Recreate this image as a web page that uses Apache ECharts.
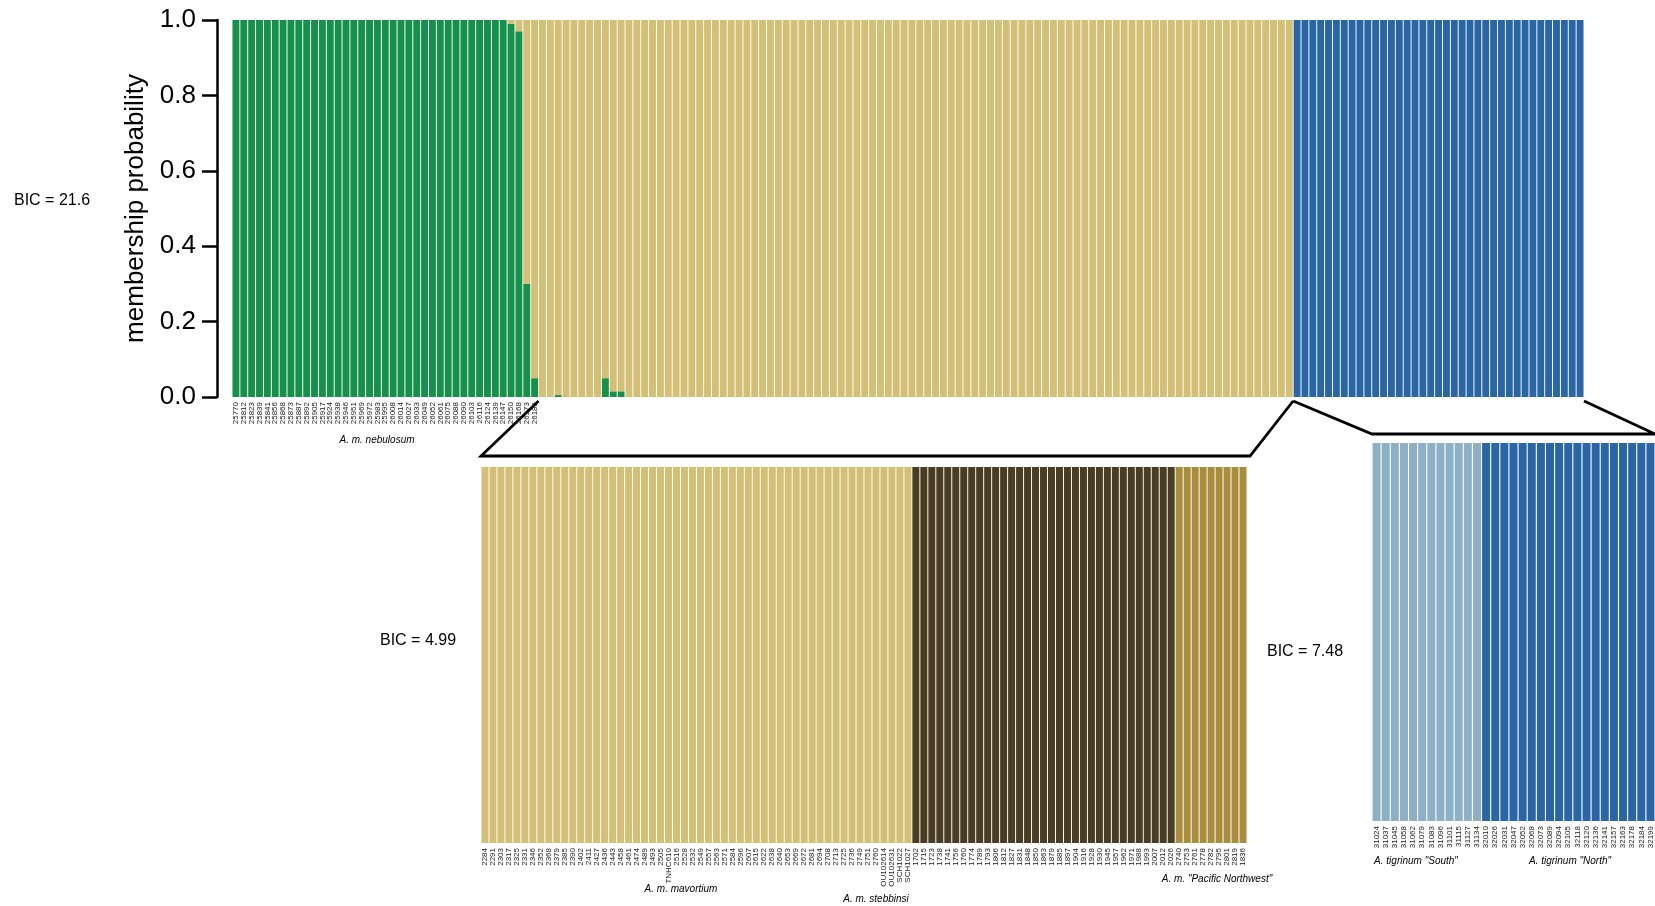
<!DOCTYPE html>
<html>
<head>
<meta charset="utf-8">
<script src="https://cdn.jsdelivr.net/npm/echarts@6/dist/echarts.min.js"></script>
<style>
html,body{margin:0;padding:0;background:#fff;}
#main{width:1655px;height:906px;}
</style>
</head>
<body>
<div id="main"></div>
<script>
// ---------------- DATA ----------------
// Top panel (K=3): 39 A. m. nebulosum, 96 A. mavortium group, 37 A. tigrinum
const nebulosumIDs = [
 '25770','25812','25823','25839','25841','25856','25868','25873','25887','25892',
 '25905','25917','25924','25938','25946','25951','25969','25972','25983','25995',
 '26008','26014','26027','26033','26049','26052','26061','26075','26088','26090',
 '26103','26116','26124','26139','26147','26150','26168','26173','26185'
];
const topGreen = [
 1,1,1,1,1,1,1,1,1,1,1,1,1,1,1,1,1,1,1,1,
 1,1,1,1,1,1,1,1,1,1,1,1,1,1,1,0.99,0.97,0.30,0.05,0,
 0,0.005,0,0,0,0,0,0.05,0.015,0.015,0,0,0,0,0,0,0,0,0,0,
 0,0,0,0,0,0,0,0,0,0,0,0,0,0,0,0,0,0,0,0,
 0,0,0,0,0,0,0,0,0,0,0,0,0,0,0,0,0,0,0,0,
 0,0,0,0,0,0,0,0,0,0,0,0,0,0,0,0,0,0,0,0,
 0,0,0,0,0,0,0,0,0,0,0,0,0,0,0,0,0,0,0,0,
 0,0,0,0,0,0,0,0,0,0,0,0,0,0,0,0,0,0,0,0,
 0,0,0,0,0,0,0,0,0,0,0,0
];
const topTan = [
 0,0,0,0,0,0,0,0,0,0,0,0,0,0,0,0,0,0,0,0,
 0,0,0,0,0,0,0,0,0,0,0,0,0,0,0,0.01,0.03,0.70,0.95,1,
 1,0.995,1,1,1,1,1,0.95,0.985,0.985,1,1,1,1,1,1,1,1,1,1,
 1,1,1,1,1,1,1,1,1,1,1,1,1,1,1,1,1,1,1,1,
 1,1,1,1,1,1,1,1,1,1,1,1,1,1,1,1,1,1,1,1,
 1,1,1,1,1,1,1,1,1,1,1,1,1,1,1,1,1,1,1,1,
 1,1,1,1,1,1,1,1,1,1,1,1,1,1,1,0,0,0,0,0,
 0,0,0,0,0,0,0,0,0,0,0,0,0,0,0,0,0,0,0,0,
 0,0,0,0,0,0,0,0,0,0,0,0
];
const topBlue = [
 0,0,0,0,0,0,0,0,0,0,0,0,0,0,0,0,0,0,0,0,
 0,0,0,0,0,0,0,0,0,0,0,0,0,0,0,0,0,0,0,0,
 0,0,0,0,0,0,0,0,0,0,0,0,0,0,0,0,0,0,0,0,
 0,0,0,0,0,0,0,0,0,0,0,0,0,0,0,0,0,0,0,0,
 0,0,0,0,0,0,0,0,0,0,0,0,0,0,0,0,0,0,0,0,
 0,0,0,0,0,0,0,0,0,0,0,0,0,0,0,0,0,0,0,0,
 0,0,0,0,0,0,0,0,0,0,0,0,0,0,0,1,1,1,1,1,
 1,1,1,1,1,1,1,1,1,1,1,1,1,1,1,1,1,1,1,1,
 1,1,1,1,1,1,1,1,1,1,1,1
];

// Lower middle panel: A. mavortium subset (mavortium, stebbinsi, "Pacific Northwest")
const midIDs = [
 '2284','2291','2303','2317','2325','2331','2346','2352','2368','2379',
 '2385','2390','2402','2411','2427','2436','2443','2458','2461','2474',
 '2489','2493','2505','TNHC610','2516','2528','2532','2549','2557','2563',
 '2571','2584','2596','2607','2615','2622','2638','2640','2653','2669',
 '2672','2681','2694','2708','2713','2725','2736','2749','2751','2760',
 'OU102614','OU102631','SCH1022','SCH1027',
 '1702','1715','1723','1738','1741','1756','1760','1774','1789','1793',
 '1806','1812','1827','1831','1848','1850','1863','1879','1885','1897',
 '1904','1916','1928','1930','1945','1957','1962','1971','1988','1993',
 '2007','2012','2026',
 '2740','2753','2761','2778','2782','2795','2801','2819','1836'
];
const midTan = [
 1,1,1,1,1,1,1,1,1,1,1,1,1,1,1,1,1,1,1,1,
 1,1,1,1,1,1,1,1,1,1,1,1,1,1,1,1,1,1,1,1,
 1,1,1,1,1,1,1,1,1,1,1,1,1,1,0,0,0,0,0,0,
 0,0,0,0,0,0,0,0,0,0,0,0,0,0,0,0,0,0,0,0,
 0,0,0,0,0,0,0,0,0,0,0,0,0,0,0,0
];
const midDark = [
 0,0,0,0,0,0,0,0,0,0,0,0,0,0,0,0,0,0,0,0,
 0,0,0,0,0,0,0,0,0,0,0,0,0,0,0,0,0,0,0,0,
 0,0,0,0,0,0,0,0,0,0,0,0,0,0,1,1,1,1,1,1,
 1,1,1,1,1,1,1,1,1,1,1,1,1,1,1,1,1,1,1,1,
 1,1,1,1,1,1,1,0,0,0,0,0,0,0,0,0
];
const midGold = [
 0,0,0,0,0,0,0,0,0,0,0,0,0,0,0,0,0,0,0,0,
 0,0,0,0,0,0,0,0,0,0,0,0,0,0,0,0,0,0,0,0,
 0,0,0,0,0,0,0,0,0,0,0,0,0,0,0,0,0,0,0,0,
 0,0,0,0,0,0,0,0,0,0,0,0,0,0,0,0,0,0,0,0,
 0,0,0,0,0,0,0,1,1,1,1,1,1,1,1,1
];

// Lower right panel: A. tigrinum subset
const rightIDs = [
 '31024','31037','31045','31058','31062','31079','31083','31096','31101','31115','31127','31134',
 '32010','32026','32031','32047','32052','32068','32073','32089','32094','32105',
 '32118','32120','32136','32141','32157','32163','32178','32184','32199'
];
const rightLight = [1,1,1,1,1,1,1,1,1,1,1,1, 0,0,0,0,0,0,0,0,0,0,0,0,0,0,0,0,0,0,0];
const rightDark  = [0,0,0,0,0,0,0,0,0,0,0,0, 1,1,1,1,1,1,1,1,1,1,1,1,1,1,1,1,1,1,1];

const yTicks = [0, 0.2, 0.4, 0.6, 0.8, 1.0];

// ---------------- CHART ----------------
const FONT = 'Liberation Sans, Arial, Helvetica, sans-serif';
const C = {
  green: '#16904A', tan: '#D3BF76', blue: '#2A66A6',
  light: '#8DB0C6', dark: '#4A3E22', gold: '#A98C3C'
};
const topLabels = nebulosumIDs.concat(new Array(topGreen.length - nebulosumIDs.length).fill(''));

function xAx(grid, data) {
  return {
    type: 'category', gridIndex: grid, data: data,
    axisLine: {show: false}, axisTick: {show: false}, splitLine: {show: false},
    axisLabel: {interval: 0, rotate: 90, fontSize: 8, lineHeight: 8, margin: 5,
      color: '#222', fontFamily: FONT}
  };
}
function hiddenY(grid) {
  return {type: 'value', gridIndex: grid, min: 0, max: 1, show: false};
}
function bar(name, xi, data, color) {
  return {
    name: name, type: 'bar', xAxisIndex: xi, yAxisIndex: xi, stack: 's' + xi,
    data: data, barCategoryGap: '12%', itemStyle: {color: color},
    emphasis: {disabled: true}, silent: true
  };
}

const option = {
  animation: false,
  backgroundColor: '#fff',
  textStyle: {fontFamily: FONT},
  grid: [
    {left: 232, top: 20, width: 1352, height: 377},
    {left: 481, top: 467, width: 766, height: 376},
    {left: 1372, top: 443, width: 285, height: 378}
  ],
  xAxis: [xAx(0, topLabels), xAx(1, midIDs), xAx(2, rightIDs)],
  yAxis: [
    {
      type: 'value', gridIndex: 0, min: yTicks[0], max: yTicks[yTicks.length - 1], interval: 0.2,
      offset: 15,
      axisLine: {show: true, lineStyle: {color: '#000', width: 2.5}},
      axisTick: {show: true, length: 15, lineStyle: {color: '#000', width: 2.5}},
      axisLabel: {fontSize: 26, color: '#000', margin: 21, fontFamily: FONT,
        formatter: v => v.toFixed(1)},
      splitLine: {show: false},
      name: 'membership probability', nameLocation: 'middle', nameGap: 67, nameRotate: 90,
      nameTextStyle: {fontSize: 26, color: '#000', fontFamily: FONT}
    },
    hiddenY(1), hiddenY(2)
  ],
  series: [
    bar('cluster 1', 0, topGreen, C.green),
    bar('cluster 2', 0, topTan, C.tan),
    bar('cluster 3', 0, topBlue, C.blue),
    bar('mavortium', 1, midTan, C.tan),
    bar('PNW dark', 1, midDark, C.dark),
    bar('PNW gold', 1, midGold, C.gold),
    bar('South', 2, rightLight, C.light),
    bar('North', 2, rightDark, C.blue)
  ]
};

const chart = echarts.init(document.getElementById('main'), null, {renderer: 'canvas'});
chart.setOption(option);

// brackets from axis positions
function edge(ai, i) {
  const c0 = chart.convertToPixel({xAxisIndex: ai}, 0);
  const c1 = chart.convertToPixel({xAxisIndex: ai}, 1);
  return c0 + (i - 0.5) * (c1 - c0);
}
const topBottom = chart.convertToPixel({yAxisIndex: 0}, 0) + 4;
const midBrY = chart.convertToPixel({yAxisIndex: 1}, 1) - 11;
const rBrY = chart.convertToPixel({yAxisIndex: 2}, 1) - 9;
const A = edge(0, nebulosumIDs.length);
const B = edge(0, topGreen.length - 37);
const Cx = edge(0, topGreen.length);
const mL = edge(1, 0), mR = edge(1, midIDs.length) + 3;
const rL = edge(2, 0), rR = edge(2, rightIDs.length);

const lineStyle = {stroke: '#000', lineWidth: 2.8, fill: null, lineJoin: 'miter'};
function txt(x, y, s, size, align, italic) {
  return {type: 'text', x: x, y: y, silent: true,
    style: {text: s, fontSize: size, fontFamily: FONT, fill: '#000',
      fontStyle: italic ? 'italic' : 'normal',
      align: align, verticalAlign: 'middle'}};
}
chart.setOption({
  graphic: [
    {type: 'polyline', silent: true, shape: {points: [[A, topBottom], [mL, midBrY], [mR, midBrY], [B, topBottom]]}, style: lineStyle},
    {type: 'polyline', silent: true, shape: {points: [[B, topBottom], [rL, rBrY], [rR, rBrY], [Cx, topBottom]]}, style: lineStyle},
    txt(14, 201, 'BIC = 21.6', 16, 'left'),
    txt(380, 641, 'BIC = 4.99', 16, 'left'),
    txt(1267, 652, 'BIC = 7.48', 16, 'left'),
    txt(377, 440, 'A. m. nebulosum', 10, 'center', true),
    txt(681, 889, 'A. m. mavortium', 10, 'center', true),
    txt(876, 899, 'A. m. stebbinsi', 10, 'center', true),
    txt(1217, 879, 'A. m. "Pacific Northwest"', 10, 'center', true),
    txt(1416, 861, 'A. tigrinum "South"', 10, 'center', true),
    txt(1570, 861, 'A. tigrinum "North"', 10, 'center', true)
  ]
});
</script>
</body>
</html>
